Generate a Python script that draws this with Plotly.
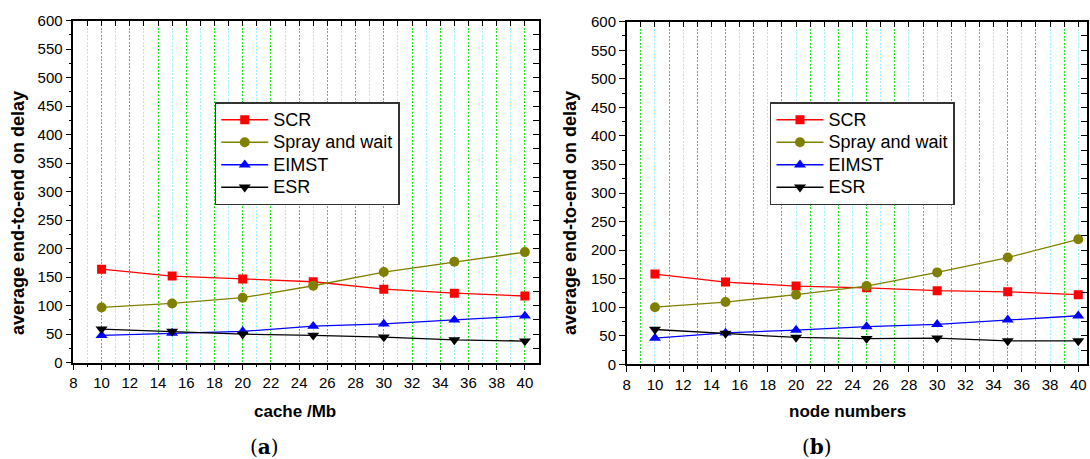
import plotly.graph_objects as go

x_vals = [10, 15, 20, 25, 30, 35, 40]

# (a) cache /Mb
a_scr = [164, 152, 147, 142, 129, 122, 117]
a_spray = [97, 104, 114, 135, 159, 177, 194]
a_eimst = [48, 52, 55, 64, 68, 75, 82]
a_esr = [59, 55, 50, 48, 45, 40, 38]

# (b) node numbers
b_scr = [158, 144, 137, 134, 129, 127, 122]
b_spray = [100, 109, 122, 137, 161, 187, 219]
b_eimst = [46, 55, 60, 66, 70, 78, 85]
b_esr = [61, 54, 47, 45, 46, 41, 41]

series_names = ["SCR", "Spray and wait", "EIMST", "ESR"]
colors = ["#ff0000", "#808000", "#0000ff", "#000000"]
symbols = ["square", "circle", "triangle-up", "triangle-down"]
msize = [9, 10, 10.5, 10.5]

even_ticks = list(range(8, 41, 2))
odd_ticks = list(range(9, 41, 2))
y_major = list(range(0, 601, 50))
y_minor = list(range(25, 600, 50))

x_titles = ["cache /Mb", "node numbers"]
panel_labels = ["(<b>a</b>)", "(<b>b</b>)"]
y_title = "<b>average end-to-end on delay</b>"

FONT = "Liberation Sans, Arial, sans-serif"
GREEN = "#1ee61e"
CYAN = "#9ff0ff"
GRID_DASH = "2px,1.5px"

fig = go.Figure()

panels = [
    (a_scr, a_spray, a_eimst, a_esr),
    (b_scr, b_spray, b_eimst, b_esr),
]
xr = [[8, 41], [8, 40.6]]
xdom = [[0.0673, 0.4945], [0.575, 0.997]]
ydom = [[0.2098, 0.9549], [0.2063, 0.9527]]
legx = [0.197, 0.7064]

for p, data in enumerate(panels):
    xa = "x" if p == 0 else "x2"
    ya = "y" if p == 0 else "y2"
    leg = "legend" if p == 0 else "legend2"
    for i, ys in enumerate(data):
        fig.add_trace(go.Scatter(
            x=x_vals, y=ys,
            name='<span style="font-size:18px">' + series_names[i] + "</span>",
            mode="lines+markers",
            line=dict(color=colors[i], width=1.3),
            marker=dict(symbol=symbols[i], size=msize[i], color=colors[i]),
            xaxis=xa, yaxis=ya, legend=leg,
        ))

axis_common = dict(showline=True, linecolor="black", linewidth=1.5,
                   tickfont=dict(family=FONT, size=15, color="black"),
                   zeroline=False, automargin=False)

layout = dict(
    width=1090, height=459, margin=dict(l=0, r=0, t=0, b=0, autoexpand=False),
    paper_bgcolor="white", plot_bgcolor="white", showlegend=True,
)

for p in range(2):
    sfx = "" if p == 0 else "2"
    major_col = GREEN if p == 0 else CYAN
    minor_col = CYAN if p == 0 else GREEN
    layout["xaxis" + sfx] = dict(
        axis_common, domain=xdom[p], range=xr[p], anchor="y" + sfx,
        tickmode="array", tickvals=even_ticks, ticktext=[str(v) for v in even_ticks],
        ticks="outside", ticklen=6, tickwidth=1.2, tickcolor="black",
        showgrid=True, gridcolor=major_col, griddash=GRID_DASH, gridwidth=1,
        minor=dict(tickmode="array", tickvals=odd_ticks, ticks="outside", ticklen=3,
                   tickcolor="black", showgrid=True, gridcolor=minor_col,
                   griddash=GRID_DASH, gridwidth=1),
    )
    layout["yaxis" + sfx] = dict(
        axis_common, domain=ydom[p], range=[0, 600], anchor="x" + sfx,
        tickmode="array", tickvals=y_major, ticktext=[str(v) for v in y_major],
        ticks="outside", ticklen=6, tickwidth=1.2, tickcolor="black",
        showgrid=False,
        minor=dict(tickmode="array", tickvals=y_minor, ticks="outside", ticklen=3,
                   tickcolor="black", showgrid=False),
    )
    # top / right mirror axes with inside ticks
    tx = "xaxis" + str(3 + 2 * p)
    ry = "yaxis" + str(3 + 2 * p)
    layout[tx] = dict(
        overlaying="x" + sfx, side="top", anchor="y" + sfx, range=xr[p],
        showline=True, linecolor="black", linewidth=1.5, showticklabels=False,
        tick0=8, dtick=1, ticks="inside", ticklen=6, tickwidth=1.2, tickcolor="black",
        showgrid=False, zeroline=False, automargin=False,
    )
    layout[ry] = dict(
        overlaying="y" + sfx, side="right", anchor="x" + sfx, range=[0, 600],
        showline=True, linecolor="black", linewidth=1.5, showticklabels=False,
        tick0=0, dtick=25, ticks="inside", ticklen=6, tickwidth=1.2, tickcolor="black",
        showgrid=False, zeroline=False, automargin=False,
    )
    leg = "legend" if p == 0 else "legend2"
    layout[leg] = dict(
        x=legx[p], y=1 - 102 / 459, xanchor="left", yanchor="top",
        bgcolor="white", bordercolor="#333333", borderwidth=1.5,
        font=dict(family=FONT, size=15, color="black"),
        tracegroupgap=0, itemwidth=47,
    )

fig.update_layout(**layout)

# placeholder traces so the mirror axes are drawn
for p in range(2):
    fig.add_trace(go.Scatter(x=[None], y=[None], xaxis="x" + str(3 + 2 * p),
                             yaxis="y" + str(3 + 2 * p), showlegend=False,
                             hoverinfo="skip"))

annotations = []
title_x = [18 / 1090, 570 / 1090]
xt_x = [295 / 1090, 847 / 1090]
lab_x = [264 / 1090, 817 / 1090]
for p in range(2):
    annotations.append(dict(
        text=y_title, x=title_x[p], y=1 - 213 / 459, xref="paper", yref="paper",
        textangle=-90, showarrow=False, xanchor="center", yanchor="middle",
        font=dict(family=FONT, size=18, color="black")))
    annotations.append(dict(
        text="<b>" + x_titles[p] + "</b>", x=xt_x[p], y=1 - 411 / 459,
        xref="paper", yref="paper", showarrow=False, xanchor="center", yanchor="middle",
        font=dict(family=FONT, size=17, color="black")))
    annotations.append(dict(
        text=panel_labels[p], x=lab_x[p], y=1 - 447 / 459,
        xref="paper", yref="paper", showarrow=False, xanchor="center", yanchor="middle",
        font=dict(family="DejaVu Serif, Liberation Serif, serif", size=20, color="black")))
fig.update_layout(annotations=annotations)

fig.write_html("out.html", config={"displayModeBar": False},
               post_script="document.body.style.margin='0px';document.body.style.overflow='hidden';")
